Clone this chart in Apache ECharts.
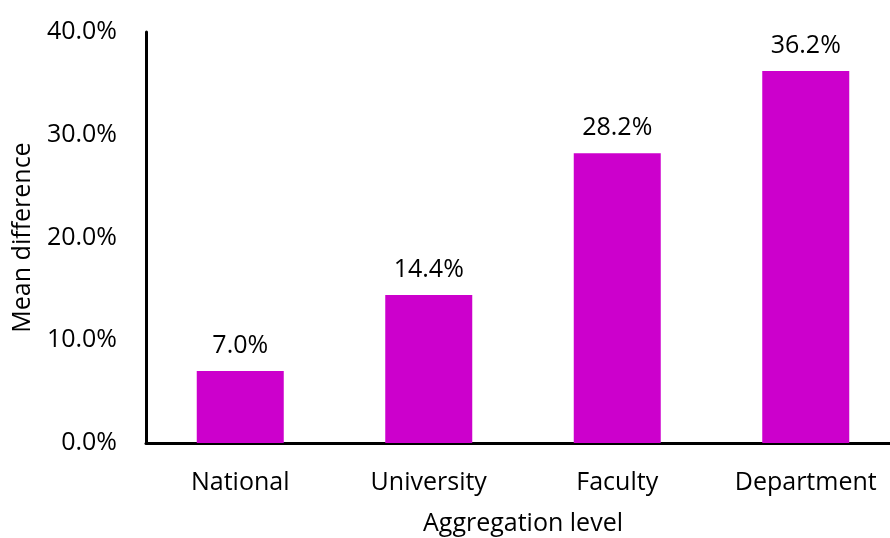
<!DOCTYPE html>
<html>
<head>
<meta charset="utf-8">
<script src="https://cdn.jsdelivr.net/npm/echarts@6/dist/echarts.min.js"></script>
<style>html,body{margin:0;padding:0;background:#fff;overflow:hidden;width:890px;height:538px;}#c{width:900px;height:538px;}</style>
</head>
<body>
<div id="c"></div>
<script>
const categories = ['National', 'University', 'Faculty', 'Department'];
const values = [7.0, 14.4, 28.2, 36.2];
const yTicks = [0, 10, 20, 30, 40];
const xAxisTitle = 'Aggregation level';
const yAxisTitle = 'Mean difference';

const chart = echarts.init(document.getElementById('c'));
const font = '"Open Sans", sans-serif';
const fs = 25;
chart.setOption({
  animation: false,
  grid: { left: 146, top: 32, right: 0, bottom: 95, outerBoundsMode: 'none', containLabel: false },
  xAxis: {
    type: 'category',
    data: categories,
    name: xAxisTitle,
    nameLocation: 'middle',
    nameGap: 68,
    nameTextStyle: { fontFamily: font, fontSize: fs, color: '#000' },
    axisLine: { lineStyle: { color: '#000', width: 3 } },
    axisTick: { show: false },
    axisLabel: { fontFamily: font, fontSize: fs, color: '#000', margin: 27 }
  },
  yAxis: {
    type: 'value',
    min: yTicks[0],
    max: yTicks[yTicks.length - 1],
    interval: 10,
    name: yAxisTitle,
    nameLocation: 'middle',
    nameGap: 111,
    nameTextStyle: { fontFamily: font, fontSize: fs, color: '#000' },
    axisLine: { show: true, lineStyle: { color: '#000', width: 3 } },
    axisTick: { show: false },
    splitLine: { show: false },
    axisLabel: { fontFamily: font, fontSize: fs, color: '#000', margin: 29,
      formatter: v => v.toFixed(1) + '%' }
  },
  series: [{
    type: 'bar',
    data: values,
    barWidth: 87,
    itemStyle: { color: '#CC00CC' },
    label: { show: true, position: 'top', distance: 13, fontFamily: font, fontSize: fs, color: '#000',
      formatter: p => p.value.toFixed(1) + '%' }
  }]
});
</script>
</body>
</html>
